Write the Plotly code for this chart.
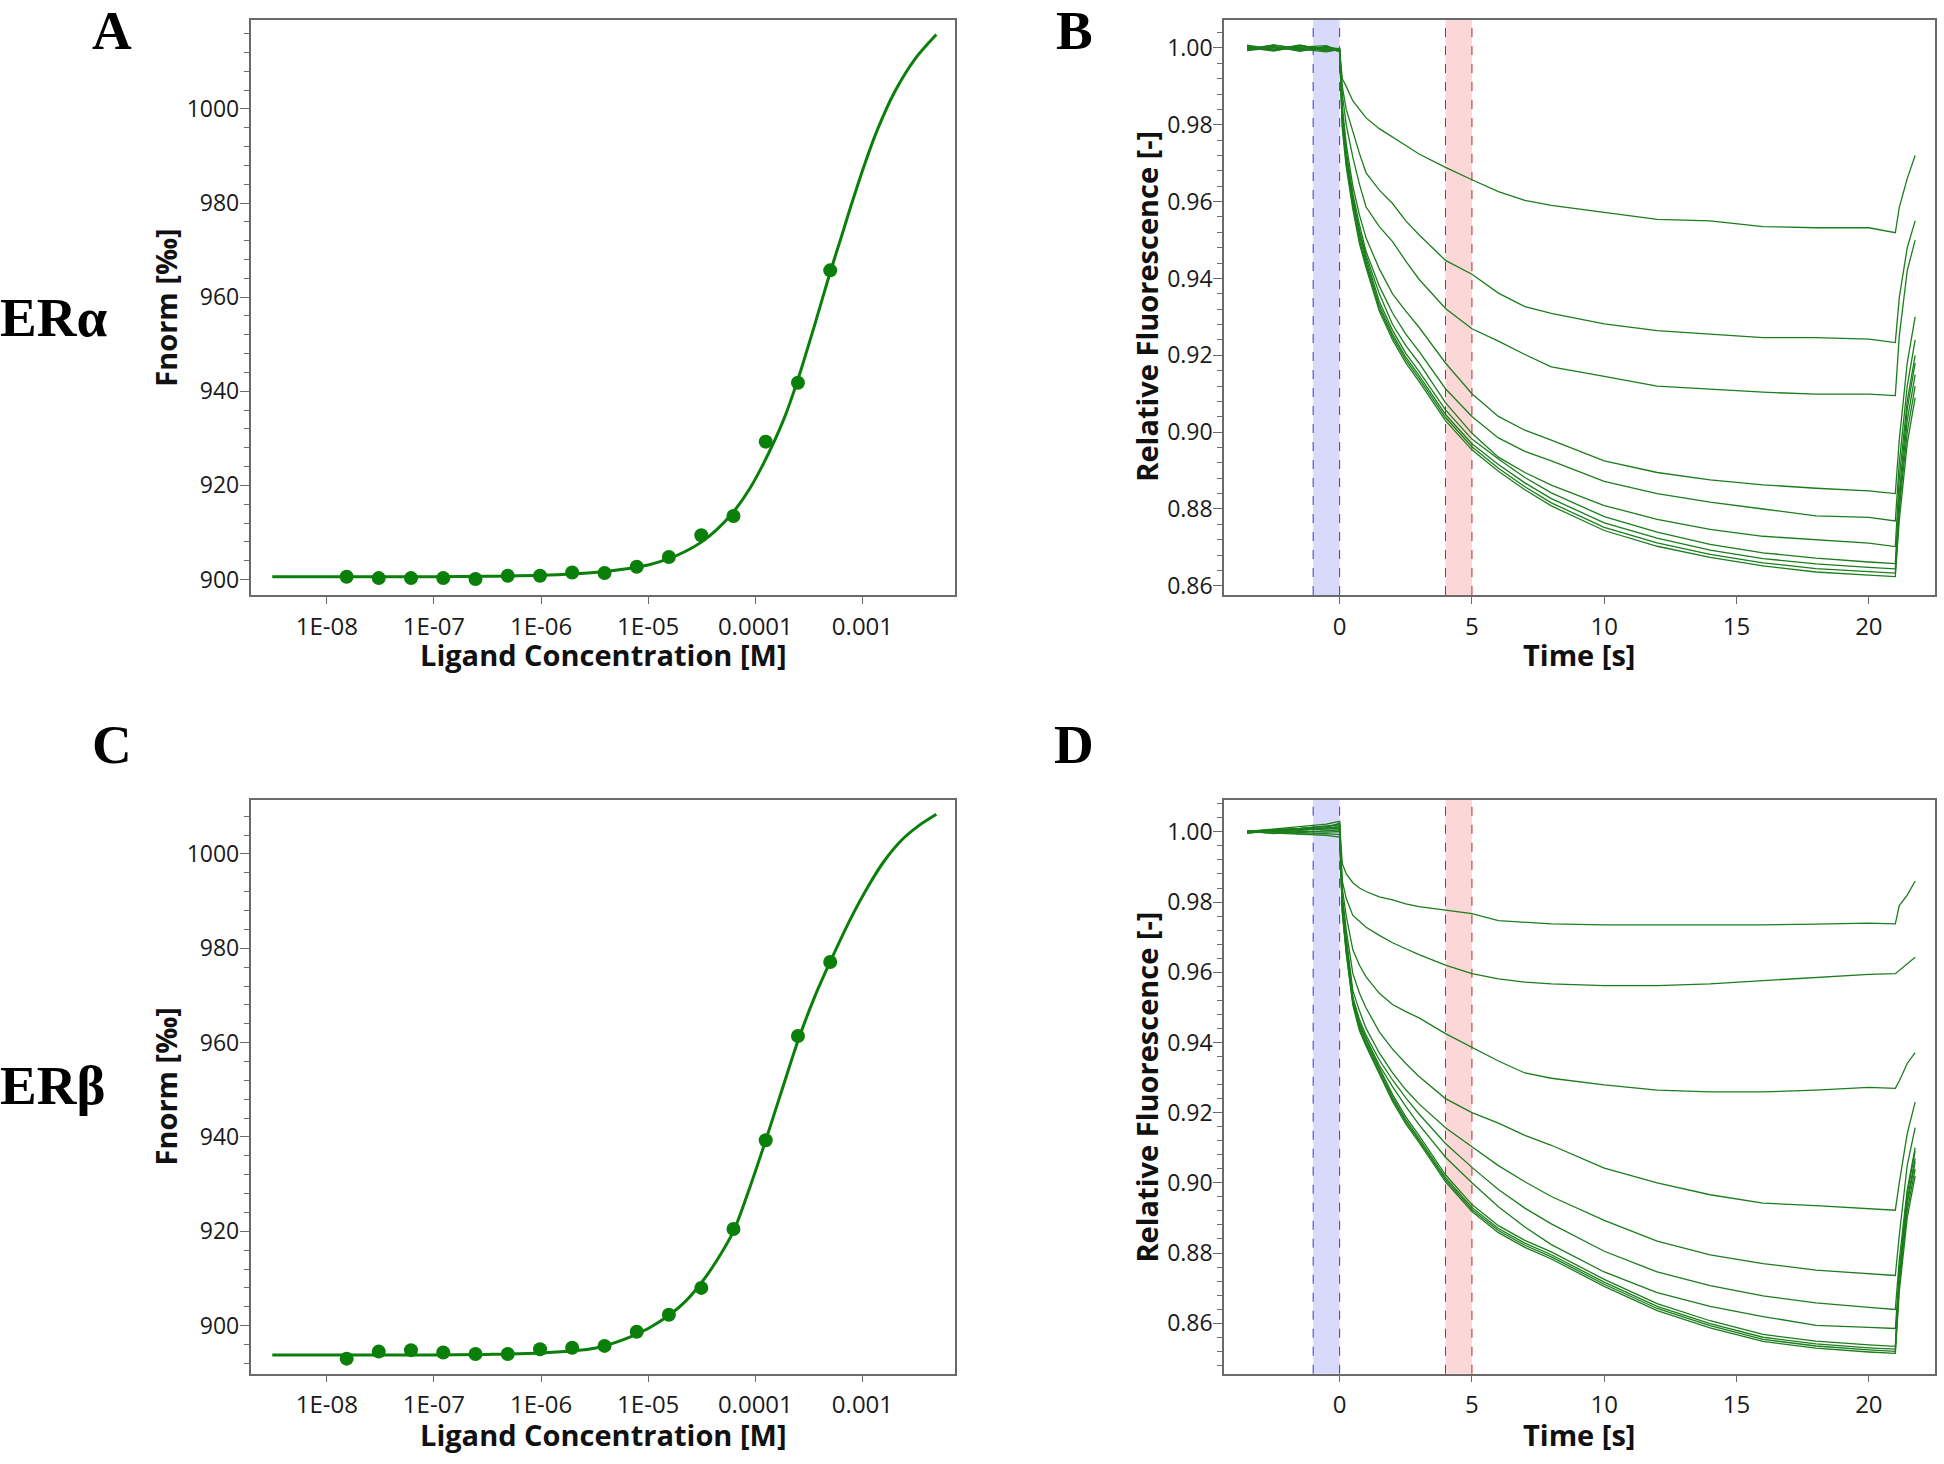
import plotly.graph_objects as go

W, H = 1944, 1464

# ---------------- Panel A / C : dose-response (MST) ----------------
conc_M = [1.53e-8, 3.05e-8, 6.1e-8, 1.22e-7, 2.44e-7, 4.88e-7, 9.77e-7, 1.95e-6,
          3.91e-6, 7.81e-6, 1.56e-5, 3.13e-5, 6.25e-5, 1.25e-4, 2.5e-4, 5e-4]
fnorm_era = [900.6, 900.3, 900.3, 900.3, 900.1, 900.8, 900.8, 901.5,
             901.4, 902.7, 904.8, 909.4, 913.5, 929.3, 941.8, 965.7]
fnorm_erb = [893.0, 894.5, 894.8, 894.3, 894.0, 894.0, 895.0, 895.3,
             895.7, 898.7, 902.3, 908.0, 920.5, 939.3, 961.4, 977.1]

fit_era_log10c = [-8.51, -8.0, -7.5, -7.0, -6.5, -6.0, -5.5, -5.2, -5.0, -4.8, -4.65, -4.5,
                  -4.36, -4.2, -4.05, -3.89, -3.73, -3.61, -3.45, -3.30, -3.20, -3.11,
                  -2.98, -2.86, -2.70, -2.51, -2.31]
fit_era = [900.6, 900.6, 900.6, 900.6, 900.7, 900.9, 901.5, 902.3, 903.1, 904.5, 906.0, 908.0,
           910.6, 914.5, 919.4, 926.2, 934.3, 942.0, 953.8, 965.4, 972.6, 979.2,
           988.2, 995.6, 1003.6, 1010.6, 1015.8]
fit_erb_log10c = [-8.51, -8.0, -7.0, -6.5, -6.0, -5.5, -5.2, -5.0, -4.8, -4.65, -4.5, -4.36,
                  -4.2, -4.05, -3.9, -3.73, -3.6, -3.45, -3.30, -3.11, -2.95, -2.80,
                  -2.64, -2.48, -2.31]
fit_erb = [893.8, 893.8, 893.8, 893.9, 894.2, 895.2, 897.3, 899.4, 902.3, 905.2, 909.2, 913.8,
           920.2, 929.4, 939.5, 951.5, 960.5, 969.5, 977.2, 986.3, 993.0, 998.4,
           1002.8, 1005.9, 1008.4]

log_tick_vals = [1e-8, 1e-7, 1e-6, 1e-5, 1e-4, 1e-3]
log_tick_text = ["1E-08", "1E-07", "1E-06", "1E-05", "0.0001", "0.001"]

# ---------------- Panel B / D : MST time traces ----------------
time_s = [-3.5, -2.5, -1.5, -0.5, 0, 0.1, 0.25, 0.5, 0.75, 1, 1.5, 2, 2.5, 3, 4, 5, 6, 7, 8,
          10, 12, 14, 16, 18, 20, 21, 21.15, 21.45, 21.75]

era_t1 = [1.0005, 0.9995, 1.0008, 0.9992, 0.9995, 0.992, 0.990, 0.9862, 0.984, 0.9818, 0.979,
          0.9769, 0.9746, 0.9724, 0.9689, 0.9657, 0.9626, 0.9603, 0.959, 0.9572, 0.9554, 0.955,
          0.9535, 0.9532, 0.9532, 0.9519, 0.9585, 0.966, 0.972]
era_t2 = [0.9998, 1.0003, 0.9993, 1.0004, 0.9990, 0.990, 0.984, 0.978, 0.9725, 0.9675, 0.963,
          0.9595, 0.955, 0.9514, 0.9447, 0.9411, 0.9362, 0.9327, 0.9309, 0.9282, 0.9264, 0.9255,
          0.9246, 0.9246, 0.9242, 0.9233, 0.935, 0.948, 0.955]
era_t3 = [1.0002, 0.9996, 1.0006, 0.9997, 0.9993, 0.988, 0.980, 0.9715, 0.9645, 0.9586, 0.9535,
          0.9496, 0.9445, 0.9398, 0.9322, 0.9269, 0.9237, 0.9202, 0.9170, 0.9145, 0.9120, 0.9112,
          0.9104, 0.9099, 0.9099, 0.9095, 0.925, 0.942, 0.950]
era_t4 = [0.9996, 1.0007, 0.9999, 0.9993, 0.9997, 0.985, 0.975, 0.964, 0.9565, 0.9505, 0.9425,
          0.936, 0.9315, 0.9273, 0.918, 0.910, 0.9041, 0.9005, 0.8979, 0.8925, 0.8895, 0.8876,
          0.8863, 0.8854, 0.8847, 0.8840, 0.898, 0.918, 0.930]
era_t5 = [1.0004, 0.9994, 1.0002, 1.0006, 0.9992, 0.983, 0.973, 0.962, 0.954, 0.947, 0.938,
          0.931, 0.9255, 0.921, 0.9113, 0.9041, 0.8985, 0.8950, 0.8925, 0.8872, 0.8840, 0.8818,
          0.8800, 0.8782, 0.8778, 0.8769, 0.892, 0.912, 0.924]
era_t6 = [0.9993, 1.0001, 0.9996, 1.0001, 0.9998, 0.982, 0.972, 0.961, 0.9525, 0.946, 0.936,
          0.928, 0.9225, 0.918, 0.9077, 0.8997, 0.8935, 0.8895, 0.8862, 0.8809, 0.8773, 0.8747,
          0.8729, 0.8720, 0.8711, 0.8702, 0.888, 0.908, 0.920]
era_t7 = [1.0007, 0.9997, 1.0003, 0.9995, 0.9994, 0.982, 0.972, 0.961, 0.952, 0.9453, 0.934,
          0.9265, 0.9205, 0.9158, 0.9058, 0.8982, 0.8930, 0.8882, 0.8842, 0.8780, 0.8740, 0.8708,
          0.8686, 0.8672, 0.8662, 0.8658, 0.884, 0.906, 0.918]
era_t8 = [0.9994, 1.0004, 0.9991, 1.0003, 0.9996, 0.981, 0.971, 0.960, 0.951, 0.9443, 0.933,
          0.9255, 0.9195, 0.9148, 0.9046, 0.8970, 0.8916, 0.8868, 0.8827, 0.8764, 0.8724, 0.8693,
          0.8671, 0.8657, 0.8648, 0.8644, 0.882, 0.903, 0.915]
era_t9 = [1.0001, 0.9992, 1.0005, 0.9998, 0.9991, 0.980, 0.970, 0.959, 0.950, 0.9435, 0.9322,
          0.9248, 0.9188, 0.9140, 0.9038, 0.8962, 0.8906, 0.8858, 0.8816, 0.8752, 0.8712, 0.8682,
          0.8660, 0.8645, 0.8637, 0.8633, 0.880, 0.900, 0.912]
era_t10 = [0.9997, 1.0008, 0.9997, 0.9990, 0.9997, 0.979, 0.969, 0.958, 0.949, 0.9428, 0.9315,
           0.9240, 0.9180, 0.9132, 0.9030, 0.8954, 0.8898, 0.8850, 0.8808, 0.8744, 0.8703, 0.8674,
           0.8652, 0.8636, 0.8628, 0.8624, 0.877, 0.897, 0.909]

erb_t1 = [0.9998, 1.0006, 1.0010, 1.0016, 1.0020, 0.991, 0.988, 0.9855, 0.984, 0.983, 0.9815,
          0.9806, 0.9795, 0.9787, 0.9777, 0.9767, 0.9747, 0.9742, 0.9738, 0.9735, 0.9735, 0.9733,
          0.9735, 0.9737, 0.9740, 0.9738, 0.979, 0.982, 0.986]
erb_t2 = [1.0003, 1.0001, 1.0009, 1.0012, 1.0025, 0.986, 0.981, 0.9762, 0.9745, 0.9728, 0.9705,
          0.9684, 0.9667, 0.965, 0.962, 0.9596, 0.9581, 0.9572, 0.9567, 0.9562, 0.9562, 0.9567,
          0.9576, 0.9586, 0.9594, 0.9596, 0.9605, 0.9625, 0.9643]
erb_t3 = [0.9996, 1.0004, 1.0007, 1.0010, 1.0015, 0.984, 0.976, 0.9664, 0.962, 0.9587, 0.954,
          0.9508, 0.9488, 0.947, 0.9425, 0.9387, 0.9347, 0.9313, 0.9298, 0.9279, 0.9264, 0.9259,
          0.9259, 0.9264, 0.9272, 0.9269, 0.929, 0.934, 0.9371]
erb_t4 = [1.0001, 0.9997, 1.0004, 1.0008, 1.0010, 0.982, 0.972, 0.9596, 0.954, 0.9498, 0.943,
          0.9381, 0.934, 0.9303, 0.9240, 0.9200, 0.9170, 0.9135, 0.9107, 0.9042, 0.9000, 0.8966,
          0.8942, 0.8935, 0.8925, 0.8922, 0.900, 0.914, 0.923]
erb_t5 = [0.9999, 1.0005, 0.9998, 1.0004, 1.0006, 0.981, 0.970, 0.9547, 0.949, 0.944, 0.937,
          0.9313, 0.9265, 0.9225, 0.9157, 0.9103, 0.9049, 0.9003, 0.8961, 0.8893, 0.8834, 0.8795,
          0.8770, 0.8751, 0.8740, 0.8736, 0.885, 0.905, 0.9157]
erb_t6 = [1.0002, 0.9995, 1.0001, 0.9999, 1.0001, 0.980, 0.969, 0.9528, 0.9465, 0.942, 0.935,
          0.9293, 0.9242, 0.9196, 0.9112, 0.9044, 0.8981, 0.8928, 0.8883, 0.8805, 0.8746, 0.8707,
          0.8678, 0.8658, 0.8645, 0.8639, 0.878, 0.898, 0.910]
erb_t7 = [0.9997, 1.0002, 0.9994, 0.9995, 0.9992, 0.979, 0.968, 0.952, 0.9455, 0.9411, 0.9335,
          0.9274, 0.9218, 0.9166, 0.9073, 0.9000, 0.8932, 0.8874, 0.8824, 0.8746, 0.8687, 0.8648,
          0.8619, 0.8594, 0.8588, 0.8585, 0.874, 0.895, 0.907]
erb_t8 = [1.0001, 1.0008, 1.0014, 1.0022, 1.0030, 0.979, 0.967, 0.9526, 0.9453, 0.9409, 0.9328,
          0.9252, 0.9188, 0.9135, 0.9023, 0.8938, 0.8878, 0.8836, 0.8803, 0.8725, 0.8656, 0.8607,
          0.8568, 0.8549, 0.8538, 0.8534, 0.875, 0.897, 0.909]
erb_t9 = [0.9998, 1.0003, 1.0006, 1.0010, 1.0015, 0.978, 0.9664, 0.9518, 0.9445, 0.9401, 0.932,
          0.9244, 0.918, 0.9127, 0.9015, 0.8930, 0.8870, 0.8828, 0.8795, 0.8717, 0.8648, 0.8599,
          0.8560, 0.8541, 0.8530, 0.8526, 0.873, 0.894, 0.906]
erb_t10 = [1.0000, 0.9996, 0.9994, 0.9990, 0.9985, 0.977, 0.9658, 0.9512, 0.9439, 0.9395, 0.9314,
           0.9238, 0.9174, 0.9121, 0.9009, 0.8924, 0.8864, 0.8822, 0.8789, 0.8711, 0.8642, 0.8593,
           0.8554, 0.8535, 0.8524, 0.8520, 0.871, 0.892, 0.904]
erb_t11 = [1.0002, 1.0005, 1.0010, 1.0016, 1.0022, 0.977, 0.9652, 0.9506, 0.9433, 0.9389, 0.9308,
           0.9232, 0.9168, 0.9115, 0.9003, 0.8918, 0.8858, 0.8816, 0.8783, 0.8705, 0.8636, 0.8587,
           0.8548, 0.8529, 0.8518, 0.8514, 0.869, 0.890, 0.902]

era_traces = [era_t1, era_t2, era_t3, era_t4, era_t5, era_t6, era_t7, era_t8, era_t9, era_t10]
erb_traces = [erb_t1, erb_t2, erb_t3, erb_t4, erb_t5, erb_t6, erb_t7, erb_t8, erb_t9, erb_t10, erb_t11]

cold_region = [-1, 0]
hot_region = [4, 5]

# ---------------- styling ----------------
GREEN = "#0a7f0a"
TRACE_GREEN = "#1b7d1b"
AX_LINE = "#6a6a6a"
XTICK_FONT = dict(family="Open Sans, Noto Sans, sans-serif", size=24, color="#1a1a1a")
YTICK_FONT = dict(family="Open Sans, Noto Sans, sans-serif", size=23, color="#1a1a1a")
TITLE_FONT = dict(family="Open Sans, Noto Sans, sans-serif", size=29, color="#111111")
LETTER_FONT = dict(family="Liberation Serif, Times New Roman, serif", size=55, color="#000000")


def fx(p):
    return p / W


def fy(p):
    return 1 - p / H


X_LEFT = [250.6, 955.0]
X_RIGHT = [1224.0, 1935.0]
Y_TOP = [19.6, 597.5]
Y_BOT = [803.0, 1379.4]

fig = go.Figure()

# Panel A
fig.add_trace(go.Scatter(x=[10 ** v for v in fit_era_log10c], y=fit_era, mode="lines",
                         line=dict(color=GREEN, width=3, shape="spline", smoothing=0.8),
                         xaxis="x", yaxis="y", showlegend=False))
fig.add_trace(go.Scatter(x=conc_M, y=fnorm_era, mode="markers",
                         marker=dict(color=GREEN, size=14),
                         xaxis="x", yaxis="y", showlegend=False))
# Panel C
fig.add_trace(go.Scatter(x=[10 ** v for v in fit_erb_log10c], y=fit_erb, mode="lines",
                         line=dict(color=GREEN, width=3, shape="spline", smoothing=0.8),
                         xaxis="x3", yaxis="y3", showlegend=False))
fig.add_trace(go.Scatter(x=conc_M, y=fnorm_erb, mode="markers",
                         marker=dict(color=GREEN, size=14),
                         xaxis="x3", yaxis="y3", showlegend=False))
# Panel B
for tr in era_traces:
    fig.add_trace(go.Scatter(x=time_s, y=tr, mode="lines",
                             line=dict(color=TRACE_GREEN, width=1.3),
                             xaxis="x2", yaxis="y2", showlegend=False))
# Panel D
for tr in erb_traces:
    fig.add_trace(go.Scatter(x=time_s, y=tr, mode="lines",
                             line=dict(color=TRACE_GREEN, width=1.3),
                             xaxis="x4", yaxis="y4", showlegend=False))

# shaded regions
shapes = []
for xr, yr in (("x2", "y2"), ("x4", "y4")):
    for reg, fill, edge in ((cold_region, "rgba(185,185,250,0.55)", "#3a3ab8"),
                            (hot_region, "rgba(250,175,175,0.5)", "#b02a2a")):
        shapes.append(dict(type="rect", xref=xr, yref=yr + " domain", x0=reg[0], x1=reg[1],
                           y0=0, y1=1, fillcolor=fill, line=dict(width=0), layer="below"))
        for xv in reg:
            shapes.append(dict(type="line", xref=xr, yref=yr + " domain", x0=xv, x1=xv,
                               y0=0, y1=1, line=dict(color=edge, width=1, dash="dash"),
                               layer="below"))

common_axis = dict(showline=True, linecolor=AX_LINE, linewidth=1.5, mirror=True,
                   ticks="outside", tickcolor=AX_LINE, tickwidth=1.2, showgrid=False,
                   zeroline=False)

log_x = dict(common_axis, type="log", range=[-8.712, -2.136], tickvals=log_tick_vals,
             ticktext=log_tick_text, ticklen=7, ticklabelstandoff=2, tickfont=XTICK_FONT)
time_x = dict(common_axis, range=[-4.37, 22.50], tickvals=[0, 5, 10, 15, 20], ticklen=7,
              ticklabelstandoff=2, tickfont=XTICK_FONT)
fn_y_minor = dict(dtick=4, ticklen=5, ticks="outside", tickcolor=AX_LINE, tickwidth=1, showgrid=False)
rf_y_minor = dict(dtick=0.004, ticklen=5, ticks="outside", tickcolor=AX_LINE, tickwidth=1, showgrid=False)
y_common = dict(common_axis, ticklen=9, ticklabelstandoff=-4, tickfont=YTICK_FONT)

fig.update_layout(
    width=W, height=H, margin=dict(l=0, r=0, t=0, b=0),
    paper_bgcolor="white", plot_bgcolor="white", showlegend=False,
    xaxis=dict(log_x, domain=[fx(X_LEFT[0]), fx(X_LEFT[1])], anchor="y"),
    yaxis=dict(y_common, domain=[fy(Y_TOP[1]), fy(Y_TOP[0])], range=[896.7, 1019.0],
               tick0=900, dtick=20, minor=fn_y_minor, anchor="x"),
    xaxis2=dict(time_x, domain=[fx(X_RIGHT[0]), fx(X_RIGHT[1])], anchor="y2"),
    yaxis2=dict(y_common, domain=[fy(Y_TOP[1]), fy(Y_TOP[0])], range=[0.8576, 1.0074],
                tick0=0.86, dtick=0.02, tickformat=".2f", minor=rf_y_minor, anchor="x2"),
    xaxis3=dict(log_x, domain=[fx(X_LEFT[0]), fx(X_LEFT[1])], anchor="y3"),
    yaxis3=dict(y_common, domain=[fy(Y_BOT[1]), fy(Y_BOT[0])], range=[889.8, 1011.5],
                tick0=900, dtick=20, minor=fn_y_minor, anchor="x3"),
    xaxis4=dict(time_x, domain=[fx(X_RIGHT[0]), fx(X_RIGHT[1])], anchor="y4"),
    yaxis4=dict(y_common, domain=[fy(Y_BOT[1]), fy(Y_BOT[0])], range=[0.8456, 1.00916],
                tick0=0.86, dtick=0.02, tickformat=".2f", minor=rf_y_minor, anchor="x4"),
    shapes=shapes,
)

ann = []


def add_text(text, x, y, font, angle=0, xanchor="center", yanchor="middle"):
    ann.append(dict(text=text, x=fx(x), y=fy(y), xref="paper", yref="paper", showarrow=False,
                    font=font, textangle=angle, xanchor=xanchor, yanchor=yanchor))


bold_title = dict(TITLE_FONT)
add_text("<b>Fnorm [‰]</b>", 166, 309, bold_title, angle=-90)
add_text("<b>Fnorm [‰]</b>", 166, 1091, bold_title, angle=-90)
add_text("<b>Relative Fluorescence [-]</b>", 1147, 308, bold_title, angle=-90)
add_text("<b>Relative Fluorescence [-]</b>", 1147, 1092, bold_title, angle=-90)
add_text("<b>Ligand Concentration [M]</b>", 603, 657, bold_title)
add_text("<b>Ligand Concentration [M]</b>", 603, 1440, bold_title)
add_text("<b>Time [s]</b>", 1579, 657, bold_title)
add_text("<b>Time [s]</b>", 1579, 1440, bold_title)

add_text("<b>A</b>", 112, 31, LETTER_FONT)
add_text("<b>B</b>", 1074, 31, LETTER_FONT)
add_text("<b>C</b>", 112, 748, LETTER_FONT)
add_text("<b>D</b>", 1074, 748, LETTER_FONT)
add_text("<b>ERα</b>", -2, 319, LETTER_FONT, xanchor="left")
add_text("<b>ERβ</b>", -2, 1090, LETTER_FONT, xanchor="left")

fig.update_layout(annotations=ann)

fig.write_html("out.html", config={"displayModeBar": False},
               post_script="document.body.style.margin='0px';document.body.style.overflow='hidden';")
